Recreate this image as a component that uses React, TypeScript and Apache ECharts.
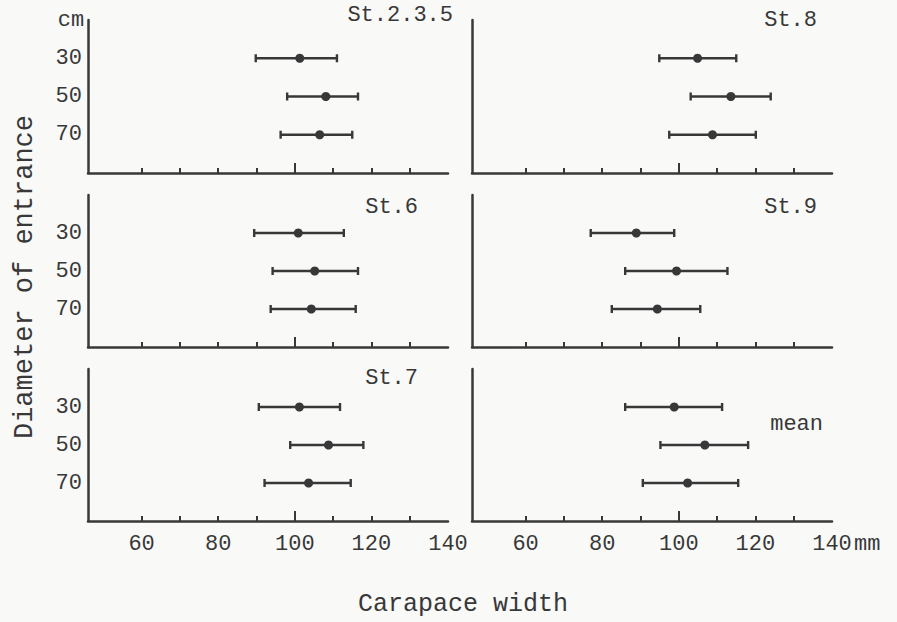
import React, { useEffect, useRef } from "react";
import * as echarts from "echarts";

// ---- data ----
const stations = ["St.2.3.5", "St.8", "St.6", "St.9", "St.7", "mean"];
const diameters = [30, 50, 70]; // cm, entrance diameter
const xTickValues = [60, 70, 80, 90, 110, 120, 130];
const xMajorTick = [100];
const xLabelValues = [60, 80, 100, 120, 140];

// carapace width (mm): lower end, mean, upper end for the 30 / 50 / 70 cm rows
const lowSt235 = [89.8, 98.0, 96.3];
const meanSt235 = [101.3, 108.1, 106.5];
const highSt235 = [111.0, 116.5, 115.0];

const lowSt8 = [94.9, 103.1, 97.5];
const meanSt8 = [104.9, 113.6, 108.8];
const highSt8 = [115.0, 124.0, 120.1];

const lowSt6 = [89.4, 94.2, 93.7];
const meanSt6 = [100.9, 105.2, 104.3];
const highSt6 = [112.8, 116.5, 115.9];

const lowSt9 = [77.0, 86.0, 82.5];
const meanSt9 = [88.9, 99.4, 94.4];
const highSt9 = [98.8, 112.7, 105.6];

const lowSt7 = [90.6, 98.8, 92.1];
const meanSt7 = [101.2, 108.8, 103.6];
const highSt7 = [111.8, 117.9, 114.6];

const lowMean = [86.0, 95.2, 90.6];
const meanMean = [98.8, 106.8, 102.3];
const highMean = [111.3, 118.1, 115.5];

const lows = [lowSt235, lowSt8, lowSt6, lowSt9, lowSt7, lowMean];
const means = [meanSt235, meanSt8, meanSt6, meanSt9, meanSt7, meanMean];
const highs = [highSt235, highSt8, highSt6, highSt9, highSt7, highMean];

const INK = "#383838";
const FONT = "Liberation Mono";

export default function App() {
  const ref = useRef<HTMLDivElement>(null);

  useEffect(() => {
    if (!ref.current) return;
    const chart = echarts.init(ref.current, null, { renderer: "svg" });

    const colLeft = [88, 472];
    const rowTop = [20, 195, 369];
    const rowHeight = [153, 152, 152];
    const gridWidth = 360;

    const grids: any[] = [];
    const xAxes: any[] = [];
    const yAxes: any[] = [];
    const series: any[] = [];
    const graphics: any[] = [];

    stations.forEach((name, i) => {
      const col = i % 2;
      const row = Math.floor(i / 2);
      grids.push({
        left: colLeft[col],
        top: rowTop[row],
        width: gridWidth,
        height: rowHeight[row],
        containLabel: false,
      });
      // main x axis: line, minor ticks, labels
      xAxes.push({
        type: "value",
        gridIndex: i,
        position: "bottom",
        min: 46,
        max: 140,
        splitLine: { show: false },
        axisLine: { show: true, lineStyle: { color: INK, width: 2.5 } },
        axisTick: {
          show: true,
          inside: true,
          length: 5,
          customValues: xTickValues,
          lineStyle: { color: INK, width: 2 },
        },
        axisLabel: {
          show: row === 2,
          customValues: xLabelValues,
          margin: 12,
          color: INK,
          fontFamily: FONT,
          fontSize: 22,
        },
      });
      // overlay axis for the longer tick at 100
      xAxes.push({
        type: "value",
        gridIndex: i,
        position: "bottom",
        offset: 0,
        min: 46,
        max: 140,
        splitLine: { show: false },
        axisLine: { show: false },
        axisTick: {
          show: true,
          inside: true,
          length: 10,
          customValues: xMajorTick,
          lineStyle: { color: INK, width: 2 },
        },
        axisLabel: { show: false },
      });
      yAxes.push({
        type: "value",
        gridIndex: i,
        inverse: true,
        min: 10,
        max: 90,
        splitLine: { show: false },
        axisLine: { show: true, lineStyle: { color: INK, width: 2.5 } },
        axisTick: { show: false },
        axisLabel: {
          show: col === 0,
          customValues: diameters,
          margin: 6,
          color: INK,
          fontFamily: FONT,
          fontSize: 22,
        },
      });

      const data = diameters.map((d, k) => [lows[i][k], means[i][k], highs[i][k], d]);
      series.push({
        type: "custom",
        name,
        xAxisIndex: i * 2,
        yAxisIndex: i,
        encode: { x: [0, 1, 2], y: 3 },
        data,
        renderItem: (_params: any, api: any) => {
          const y = api.value(3);
          const pL = api.coord([api.value(0), y]);
          const pM = api.coord([api.value(1), y]);
          const pH = api.coord([api.value(2), y]);
          const st = { stroke: INK, lineWidth: 2.4 };
          return {
            type: "group",
            children: [
              { type: "line", shape: { x1: pL[0], y1: pL[1], x2: pH[0], y2: pH[1] }, style: st },
              { type: "line", shape: { x1: pL[0], y1: pL[1] - 4, x2: pL[0], y2: pL[1] + 4 }, style: st },
              { type: "line", shape: { x1: pH[0], y1: pH[1] - 4, x2: pH[0], y2: pH[1] + 4 }, style: st },
              { type: "circle", shape: { cx: pM[0], cy: pM[1], r: 4.5 }, style: { fill: INK } },
            ],
          };
        },
      });
    });

    const titlePos = [
      [453, 15],
      [817, 20],
      [418, 207],
      [817, 207],
      [418, 378],
      [823, 424],
    ];
    stations.forEach((name, i) => {
      graphics.push({
        type: "text",
        x: titlePos[i][0],
        y: titlePos[i][1],
        style: {
          text: name,
          fill: INK,
          font: `22px "${FONT}"`,
          align: "right",
          verticalAlign: "middle",
        },
      });
    });
    graphics.push(
      {
        type: "text",
        x: 71,
        y: 20,
        style: { text: "cm", fill: INK, font: `22px "${FONT}"`, align: "center", verticalAlign: "middle" },
      },
      {
        type: "text",
        x: 854,
        y: 544,
        style: { text: "mm", fill: INK, font: `22px "${FONT}"`, align: "left", verticalAlign: "middle" },
      },
      {
        type: "text",
        x: 463,
        y: 604,
        style: {
          text: "Carapace width",
          fill: INK,
          font: `25px "${FONT}"`,
          align: "center",
          verticalAlign: "middle",
        },
      },
      {
        type: "text",
        x: 25,
        y: 277,
        rotation: Math.PI / 2,
        style: {
          text: "Diameter of entrance",
          fill: INK,
          font: `27px "${FONT}"`,
          align: "center",
          verticalAlign: "middle",
        },
      }
    );

    chart.setOption({
      animation: false,
      backgroundColor: "#f9f9f8",
      grid: grids,
      xAxis: xAxes,
      yAxis: yAxes,
      series,
      graphic: graphics,
    });

    return () => chart.dispose();
  }, []);

  return (
    <div
      ref={ref}
      style={{ position: "fixed", left: 0, top: 0, width: 897, height: 622 }}
    />
  );
}
